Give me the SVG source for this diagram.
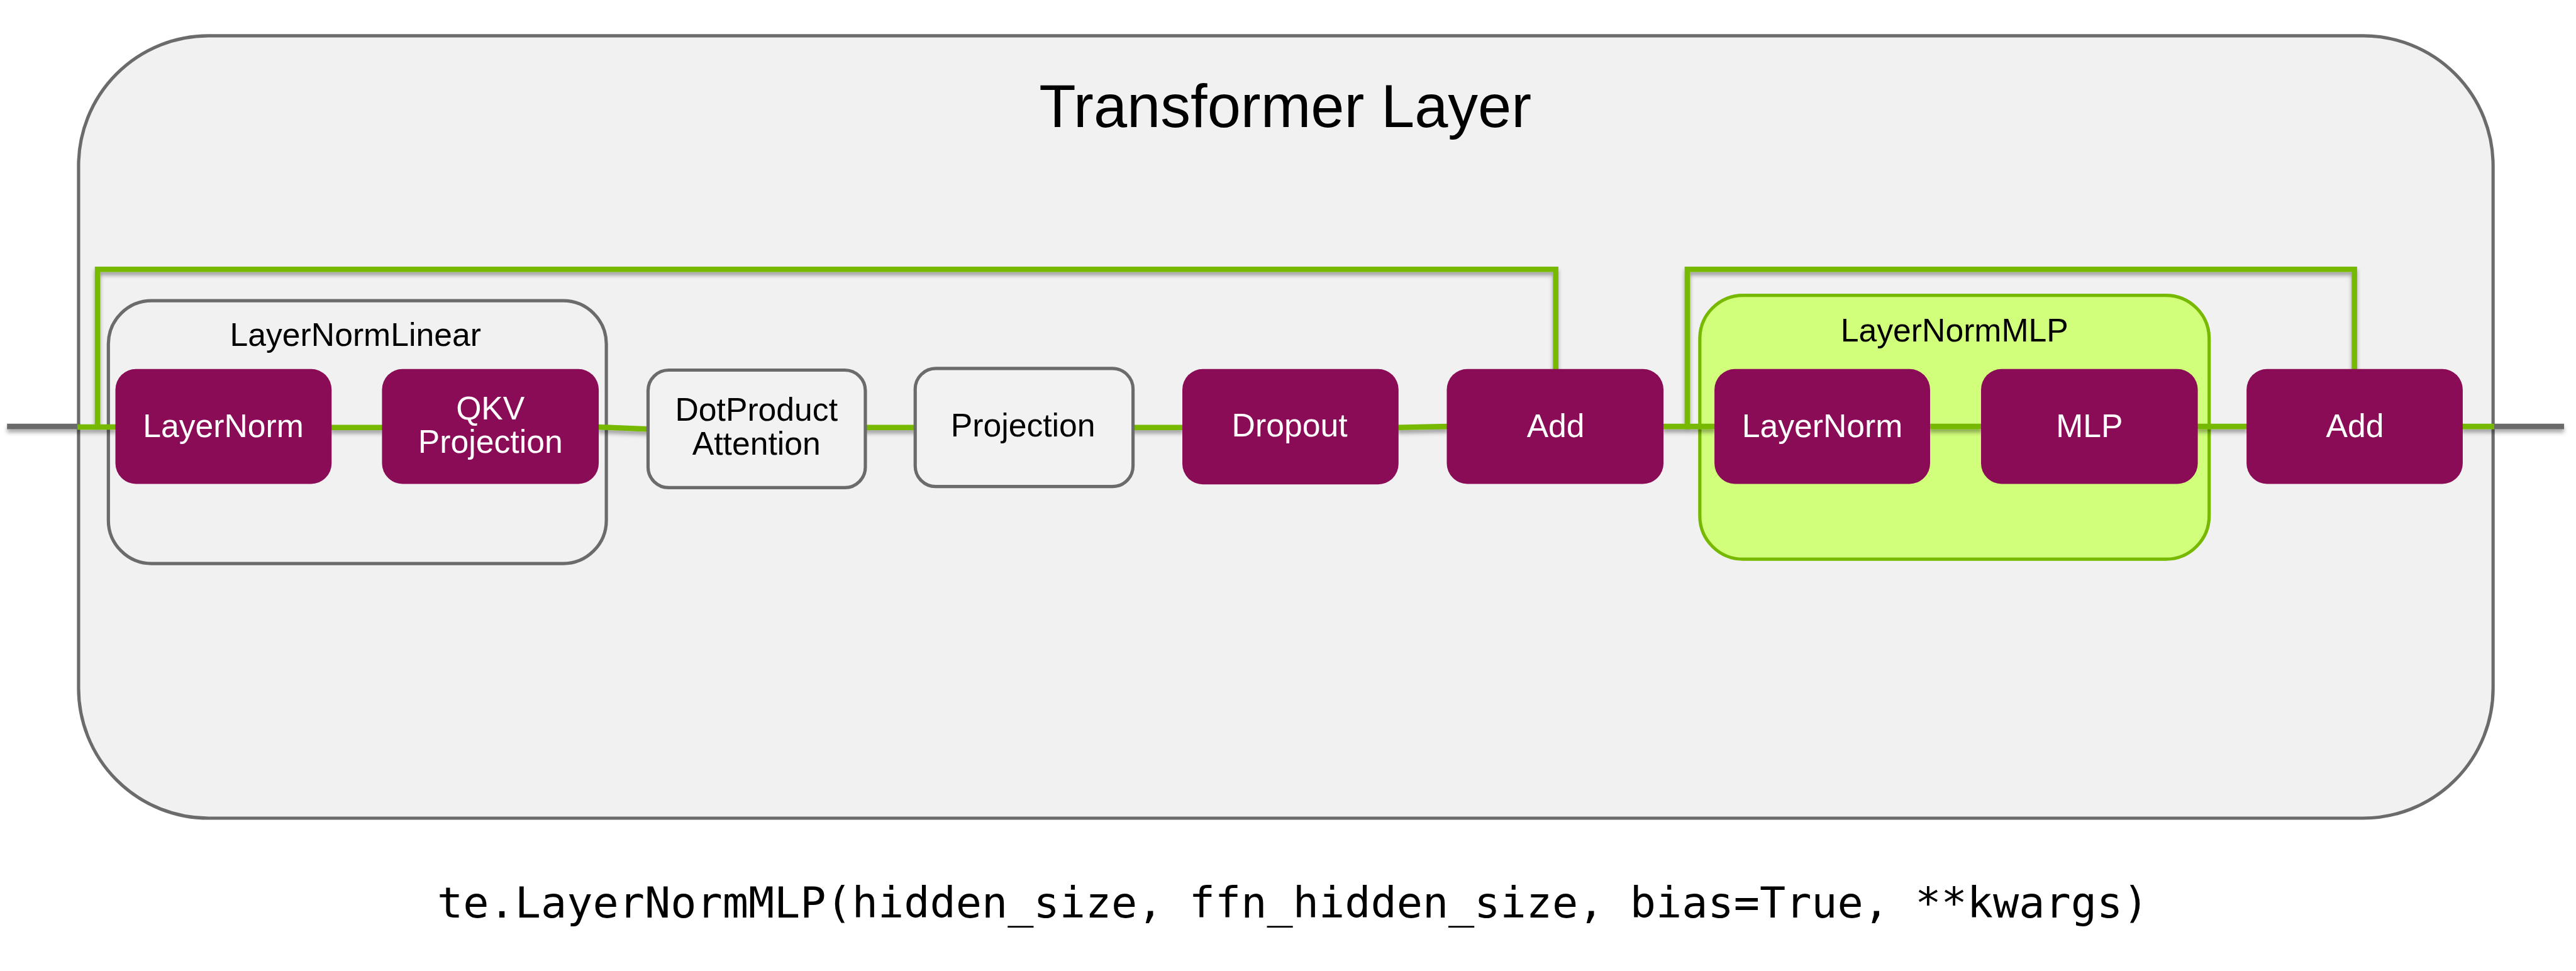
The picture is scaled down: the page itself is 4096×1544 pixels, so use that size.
<svg xmlns="http://www.w3.org/2000/svg" width="4096" height="1544" viewBox="0 0 4096 1544">
<defs>
<style>
.frame{fill:#f1f1f1;stroke:#6b6b6b;stroke-width:6}
.lnl{fill:#f1f1f1;stroke:#6b6b6b;stroke-width:6}
.lnmlp{fill:#d1fe7b;stroke:#76b900;stroke-width:6}
.op{fill:#8b0c56}
.plain{fill:#f2f2f2;stroke:#6b6b6b;stroke-width:6}
.g{fill:none;stroke:#76b900;stroke-width:10;stroke-linejoin:miter}
.gray{fill:none;stroke:#6a6a6a;stroke-width:10}
.t{font-family:"Liberation Sans",Arial,sans-serif;font-size:60px;text-anchor:middle}
.w{fill:#ffffff}
.k{fill:#000000}
.title{font-family:"Liberation Sans",Arial,sans-serif;font-size:111px;text-anchor:middle;fill:#000}
.code{font-family:"DejaVu Sans Mono","Liberation Mono",monospace;font-size:79.5px;text-anchor:middle;fill:#000}
</style>
<filter id="sh" x="-5%" y="-50%" width="110%" height="300%">
<feDropShadow dx="0" dy="6" stdDeviation="4" flood-color="#000" flood-opacity="0.35"/>
</filter>
</defs>
<rect width="4096" height="1544" fill="#ffffff"/>
<g transform="scale(0.86159)">
<g id="transformer-layer">
<rect class="frame" x="145" y="66" width="4456" height="1444" rx="240" ry="240"/>
<text class="title" x="2372" y="234">Transformer Layer</text>
</g>
<g id="layernormlinear">
<rect class="lnl" x="200" y="555" width="919" height="485" rx="80" ry="80"/>
<text class="t k" x="656" y="638">LayerNormLinear</text>
</g>
<g id="layernormmlp">
<rect class="lnmlp" x="3137" y="545" width="940" height="487" rx="80" ry="80"/>
<text class="t k" x="3607" y="630">LayerNormMLP</text>
</g>
<g id="connectors" filter="url(#sh)">
<path class="gray" d="M13,787 H148"/>
<path class="gray" d="M4598,787 H4732"/>
<path class="g" d="M143,788 H215"/>
<path class="g" d="M610,789 H707"/>
<path class="g" d="M1103,788 L1198,792"/>
<path class="g" d="M1595,789 H1691"/>
<path class="g" d="M2089,789 H2184"/>
<path class="g" d="M2579,789 L2672,787"/>
<path class="g" d="M3068,787 H3166"/>
<path class="g" d="M3560,787 H3658"/>
<path class="g" d="M4054,787 H4148"/>
<path class="g" d="M4543,787 H4603"/>
<path class="g" d="M180,792 V497 H2871 V683"/>
<path class="g" d="M3114,792 V497 H4345 V683"/>
</g>
<g id="n-layernorm1">
<rect class="op" x="213" y="681" width="399" height="212" rx="38" ry="38"/>
<text class="t w" x="412" y="807">LayerNorm</text>
</g>
<g id="n-qkv">
<rect class="op" x="705" y="681" width="400" height="212" rx="38" ry="38"/>
<text class="t w" x="905" y="774">QKV</text>
<text class="t w" x="905" y="836">Projection</text>
</g>
<g id="n-dpa">
<rect class="plain" x="1196" y="683" width="401" height="217" rx="38" ry="38"/>
<text class="t k" x="1396" y="776">DotProduct</text>
<text class="t k" x="1396" y="839">Attention</text>
</g>
<g id="n-projection">
<rect class="plain" x="1689" y="680" width="402" height="218" rx="38" ry="38"/>
<text class="t k" x="1888" y="806">Projection</text>
</g>
<g id="n-dropout">
<rect class="op" x="2182" y="681" width="399" height="213" rx="38" ry="38"/>
<text class="t w" x="2380" y="806">Dropout</text>
</g>
<g id="n-add1">
<rect class="op" x="2670" y="681" width="400" height="212" rx="38" ry="38"/>
<text class="t w" x="2871" y="807">Add</text>
</g>
<g id="n-layernorm2">
<rect class="op" x="3164" y="681" width="398" height="212" rx="38" ry="38"/>
<text class="t w" x="3363" y="807">LayerNorm</text>
</g>
<g id="n-mlp">
<rect class="op" x="3656" y="681" width="400" height="212" rx="38" ry="38"/>
<text class="t w" x="3856" y="807">MLP</text>
</g>
<g id="n-add2">
<rect class="op" x="4146" y="681" width="399" height="212" rx="38" ry="38"/>
<text class="t w" x="4346" y="807">Add</text>
</g>
<g id="code">
<text class="code" x="2386" y="1693">te.LayerNormMLP(hidden_size, ffn_hidden_size, bias=True, **kwargs)</text>
</g>
</g>
</svg>
